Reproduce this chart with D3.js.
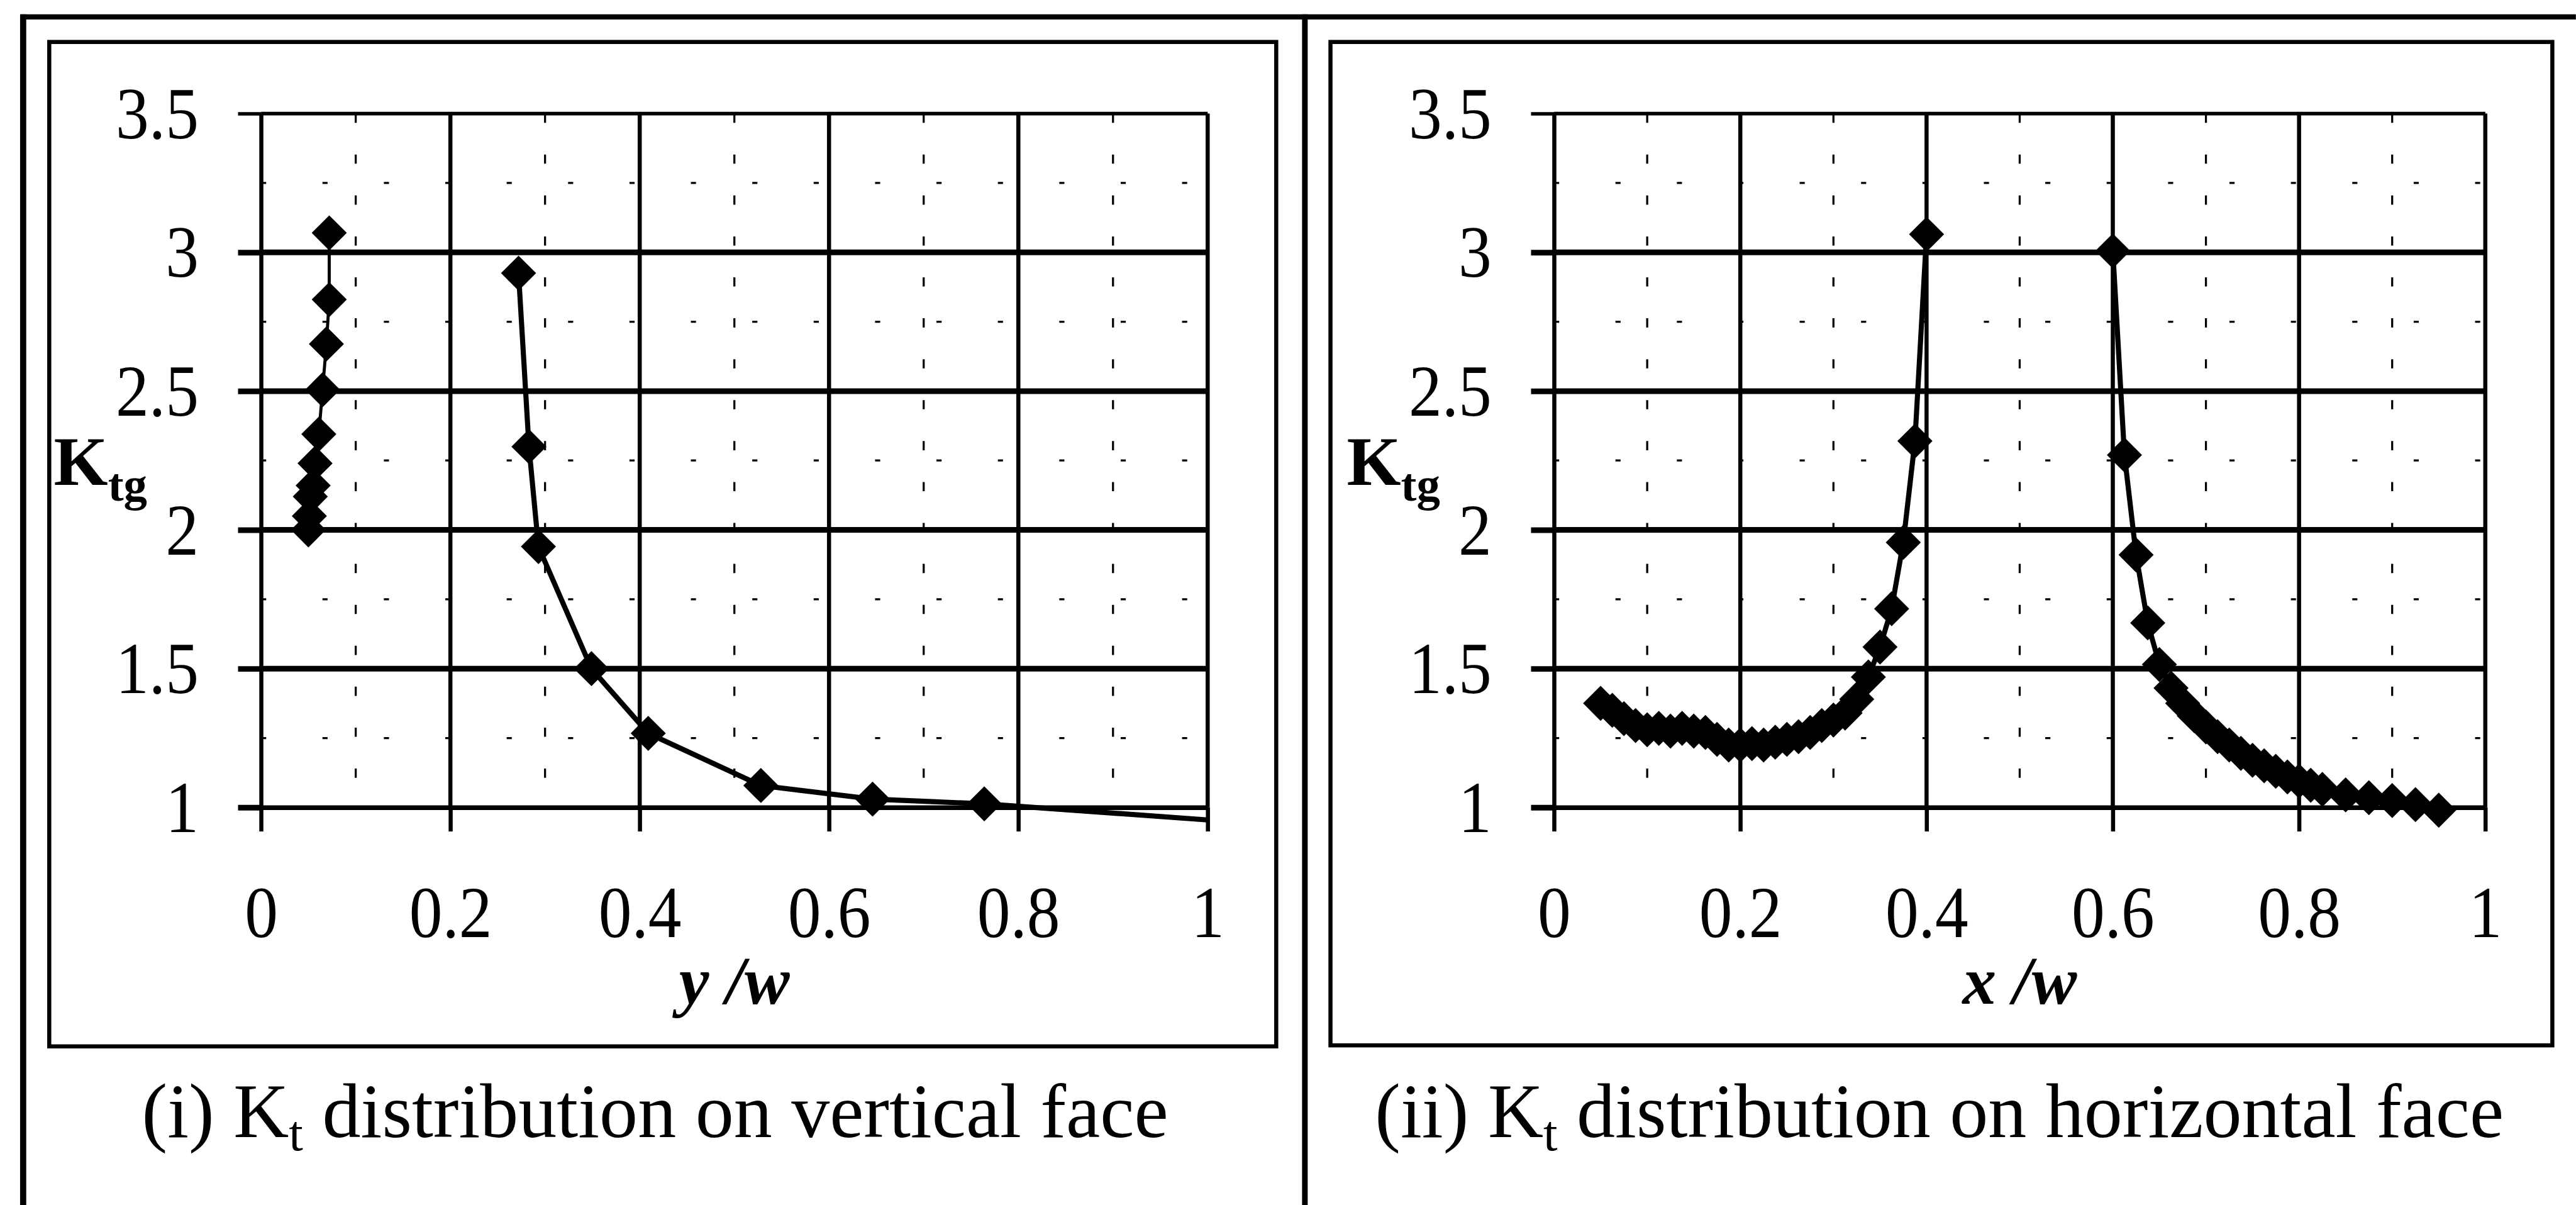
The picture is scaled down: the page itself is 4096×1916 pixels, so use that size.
<!DOCTYPE html>
<html>
<head>
<meta charset="utf-8">
<script src="https://cdn.jsdelivr.net/npm/d3@7"></script>
<style>
  html, body { margin: 0; padding: 0; background: #fff; }
  svg { display: block; }
  text { font-family: "Liberation Serif", "Times New Roman", serif; fill: #000; }
</style>
</head>
<body>
<svg id="chart" width="4096" height="1916" viewBox="0 0 5034 2355"></svg>
<script>
// ---- data -------------------------------------------------------------
// (i) vertical face: measured K_tg against y/w, two segments
const vertNearX  = [0.072, 0.072, 0.069, 0.065, 0.061, 0.057, 0.055, 0.052, 0.051, 0.050];
const vertNearKt = [3.07, 2.83, 2.67, 2.505, 2.345, 2.24, 2.16, 2.12, 2.05, 2.0];
const vertFarX   = [0.272, 0.283, 0.293, 0.349, 0.409, 0.528, 0.646, 0.764];
const vertFarKt  = [2.925, 2.30, 1.94, 1.50, 1.267, 1.079, 1.03, 1.013];
// the far segment's line runs on to the edge of the plot without a marker
const vertFarEnd = [1.0, 0.955];

// (ii) horizontal face: K_tg against x/w, either side of the opening
const horizLeftX  = [0.05, 0.0625, 0.075, 0.0875, 0.1, 0.1125, 0.125, 0.1375, 0.15, 0.1625,
                     0.175, 0.1875, 0.2, 0.2125, 0.225, 0.2375, 0.25, 0.2625, 0.275, 0.2875,
                     0.3, 0.3125, 0.325, 0.3375, 0.35, 0.3625, 0.375, 0.3875, 0.4];
const horizLeftKt = [1.375, 1.35, 1.32, 1.295, 1.28, 1.285, 1.275, 1.285, 1.275, 1.27,
                     1.245, 1.225, 1.225, 1.23, 1.225, 1.235, 1.245, 1.255, 1.27, 1.295,
                     1.315, 1.34, 1.39, 1.47, 1.578, 1.716, 1.955, 2.32, 3.065];
const horizRightX  = [0.6, 0.6125, 0.625, 0.6375, 0.65, 0.6625, 0.675, 0.6875, 0.7, 0.7125,
                      0.725, 0.7375, 0.75, 0.7625, 0.775, 0.7875, 0.8, 0.8125, 0.825, 0.85,
                      0.875, 0.9, 0.925, 0.95];
const horizRightKt = [3.005, 2.27, 1.91, 1.665, 1.515, 1.43, 1.375, 1.33, 1.29, 1.255,
                      1.225, 1.195, 1.17, 1.15, 1.13, 1.11, 1.095, 1.08, 1.065, 1.045,
                      1.035, 1.025, 1.01, 0.99];

// axes
const xTicks = [0, 0.2, 0.4, 0.6, 0.8, 1];
const yTicks = [1, 1.5, 2, 2.5, 3, 3.5];
const xMinor = [0.1, 0.3, 0.5, 0.7, 0.9];
const yMinor = [1.25, 1.75, 2.25, 2.75, 3.25];
const xTickLabels = ["0", "0.2", "0.4", "0.6", "0.8", "1"];
const yTickLabels = ["1", "1.5", "2", "2.5", "3", "3.5"];

const zip = (xs, ys) => xs.map((x, i) => [x, ys[i]]);

// ---- layout -----------------------------------------------------------
const svg = d3.select("#chart");
const PLOT_TOP = 222, PLOT_BOTTOM = 1578;
const TICK_FONT = 144;
const NARROW = 0.9;          // tick digits are set slightly condensed
const Y_LABEL_GAP = 122;     // plot edge to right edge of y tick labels

const panels = [
  {
    plotLeft: 510, plotRight: 2360,
    box: { x0: 96, y0: 82, x1: 2494, y1: 2045 },
    axisVar: "y", captionNum: "(i)", captionFace: "vertical", captionX: 1280,
    series: [
      { pts: zip(vertNearX, vertNearKt), width: 6 },
      { pts: zip(vertFarX, vertFarKt), width: 10, tail: vertFarEnd }
    ]
  },
  {
    plotLeft: 3037, plotRight: 4857,
    box: { x0: 2600, y0: 82, x1: 4988, y1: 2043 },
    axisVar: "x", captionNum: "(ii)", captionFace: "horizontal", captionX: 3790,
    series: [
      { pts: zip(horizLeftX, horizLeftKt), width: 10 },
      { pts: zip(horizRightX, horizRightKt), width: 10 }
    ]
  }
];

// ---- outer frame ------------------------------------------------------
const frame = svg.append("g").attr("stroke", "#000").attr("fill", "none");
frame.append("line").attr("x1", 40).attr("x2", 5034).attr("y1", 33).attr("y2", 33).attr("stroke-width", 10);
frame.append("line").attr("x1", 45).attr("x2", 45).attr("y1", 28).attr("y2", 2355).attr("stroke-width", 12);
frame.append("line").attr("x1", 2550).attr("x2", 2550).attr("y1", 28).attr("y2", 2355).attr("stroke-width", 11);

const diamond = d3.symbol().type(d3.symbolSquare).size(2350);

panels.forEach(p => {
  const x = d3.scaleLinear().domain([0, 1]).range([p.plotLeft, p.plotRight]);
  const y = d3.scaleLinear().domain([1, 3.5]).range([PLOT_BOTTOM, PLOT_TOP]);
  const g = svg.append("g");

  // inner chart box
  g.append("rect")
    .attr("x", p.box.x0).attr("y", p.box.y0)
    .attr("width", p.box.x1 - p.box.x0).attr("height", p.box.y1 - p.box.y0)
    .attr("fill", "none").attr("stroke", "#000").attr("stroke-width", 8);

  // minor gridlines (broken dashes)
  const minor = g.append("g").attr("stroke", "#000").attr("fill", "none");
  minor.selectAll("line.mx").data(xMinor).join("line")
    .attr("x1", d => x(d)).attr("x2", d => x(d))
    .attr("y1", PLOT_TOP).attr("y2", PLOT_BOTTOM)
    .attr("stroke-width", 4).attr("stroke-dasharray", "18 62");
  minor.selectAll("line.my").data(yMinor).join("line")
    .attr("x1", p.plotLeft).attr("x2", p.plotRight)
    .attr("y1", d => y(d)).attr("y2", d => y(d))
    .attr("stroke-width", 4).attr("stroke-dasharray", "10 110");

  // major gridlines
  const major = g.append("g").attr("stroke", "#000");
  major.selectAll("line.vx").data(xTicks.slice(1)).join("line")
    .attr("x1", d => x(d)).attr("x2", d => x(d))
    .attr("y1", PLOT_TOP).attr("y2", PLOT_BOTTOM)
    .attr("stroke-width", 8);
  major.selectAll("line.hy").data(yTicks.slice(1)).join("line")
    .attr("x1", p.plotLeft).attr("x2", p.plotRight)
    .attr("y1", d => y(d)).attr("y2", d => y(d))
    .attr("stroke-width", d => d === 3.5 ? 7 : 11);

  // y axis
  const yAxis = d3.axisLeft(y).tickValues(yTicks)
    .tickFormat((d, i) => yTickLabels[i])
    .tickSizeInner(45).tickSizeOuter(0).tickPadding(Y_LABEL_GAP - 45);
  const ya = g.append("g").attr("transform", `translate(${p.plotLeft},0)`).call(yAxis);
  ya.select(".domain").attr("stroke-width", 8);
  ya.selectAll(".tick line").attr("stroke-width", d => d === 3.5 ? 7 : 11);
  ya.selectAll(".tick text").attr("font-size", TICK_FONT).attr("font-family", null)
    .attr("dy", "0.33em")
    .attr("x", -Y_LABEL_GAP / NARROW)
    .attr("transform", `scale(${NARROW},1)`);

  // x axis
  const xAxis = d3.axisBottom(x).tickValues(xTicks)
    .tickFormat((d, i) => xTickLabels[i])
    .tickSizeInner(47).tickSizeOuter(0).tickPadding(104);
  const xa = g.append("g").attr("transform", `translate(0,${PLOT_BOTTOM})`).call(xAxis);
  xa.select(".domain").attr("stroke-width", 9);
  xa.selectAll(".tick line").attr("stroke-width", 8);
  xa.selectAll(".tick text").attr("font-size", TICK_FONT).attr("font-family", null)
    .attr("transform", `scale(${NARROW},1)`);

  // data lines and diamond markers
  const line = d3.line().x(d => x(d[0])).y(d => y(d[1]));
  p.series.forEach(s => {
    const path = s.tail ? s.pts.concat([s.tail]) : s.pts;
    g.append("path").datum(path)
      .attr("d", line).attr("fill", "none")
      .attr("stroke", "#000").attr("stroke-width", s.width)
      .attr("stroke-linejoin", "round");
    g.append("g").selectAll("path").data(s.pts).join("path")
      .attr("d", diamond)
      .attr("transform", d => `translate(${x(d[0])},${y(d[1])}) rotate(45)`)
      .attr("fill", "#000");
  });

  // y-axis title K_tg
  const kt = g.append("text")
    .attr("x", p.plotLeft - 405).attr("y", 948)
    .attr("font-weight", "bold").attr("font-size", 136);
  kt.append("tspan").text("K");
  kt.append("tspan").attr("font-size", 92).attr("dy", 30).text("tg");

  // x-axis title
  g.append("text")
    .attr("x", (p.plotLeft + p.plotRight) / 2).attr("y", 1962)
    .attr("text-anchor", "middle")
    .attr("font-weight", "bold").attr("font-style", "italic")
    .attr("font-size", 132)
    .text(`${p.axisVar} /w`);

  // caption below the chart box
  const cap = g.append("text")
    .attr("x", p.captionX).attr("y", 2222)
    .attr("text-anchor", "middle").attr("font-size", 150);
  cap.append("tspan").text(`${p.captionNum} K`);
  cap.append("tspan").attr("font-size", 100).attr("dy", 26).text("t");
  cap.append("tspan").attr("dy", -26).text(` distribution on ${p.captionFace} face`);
});
</script>
</body>
</html>
